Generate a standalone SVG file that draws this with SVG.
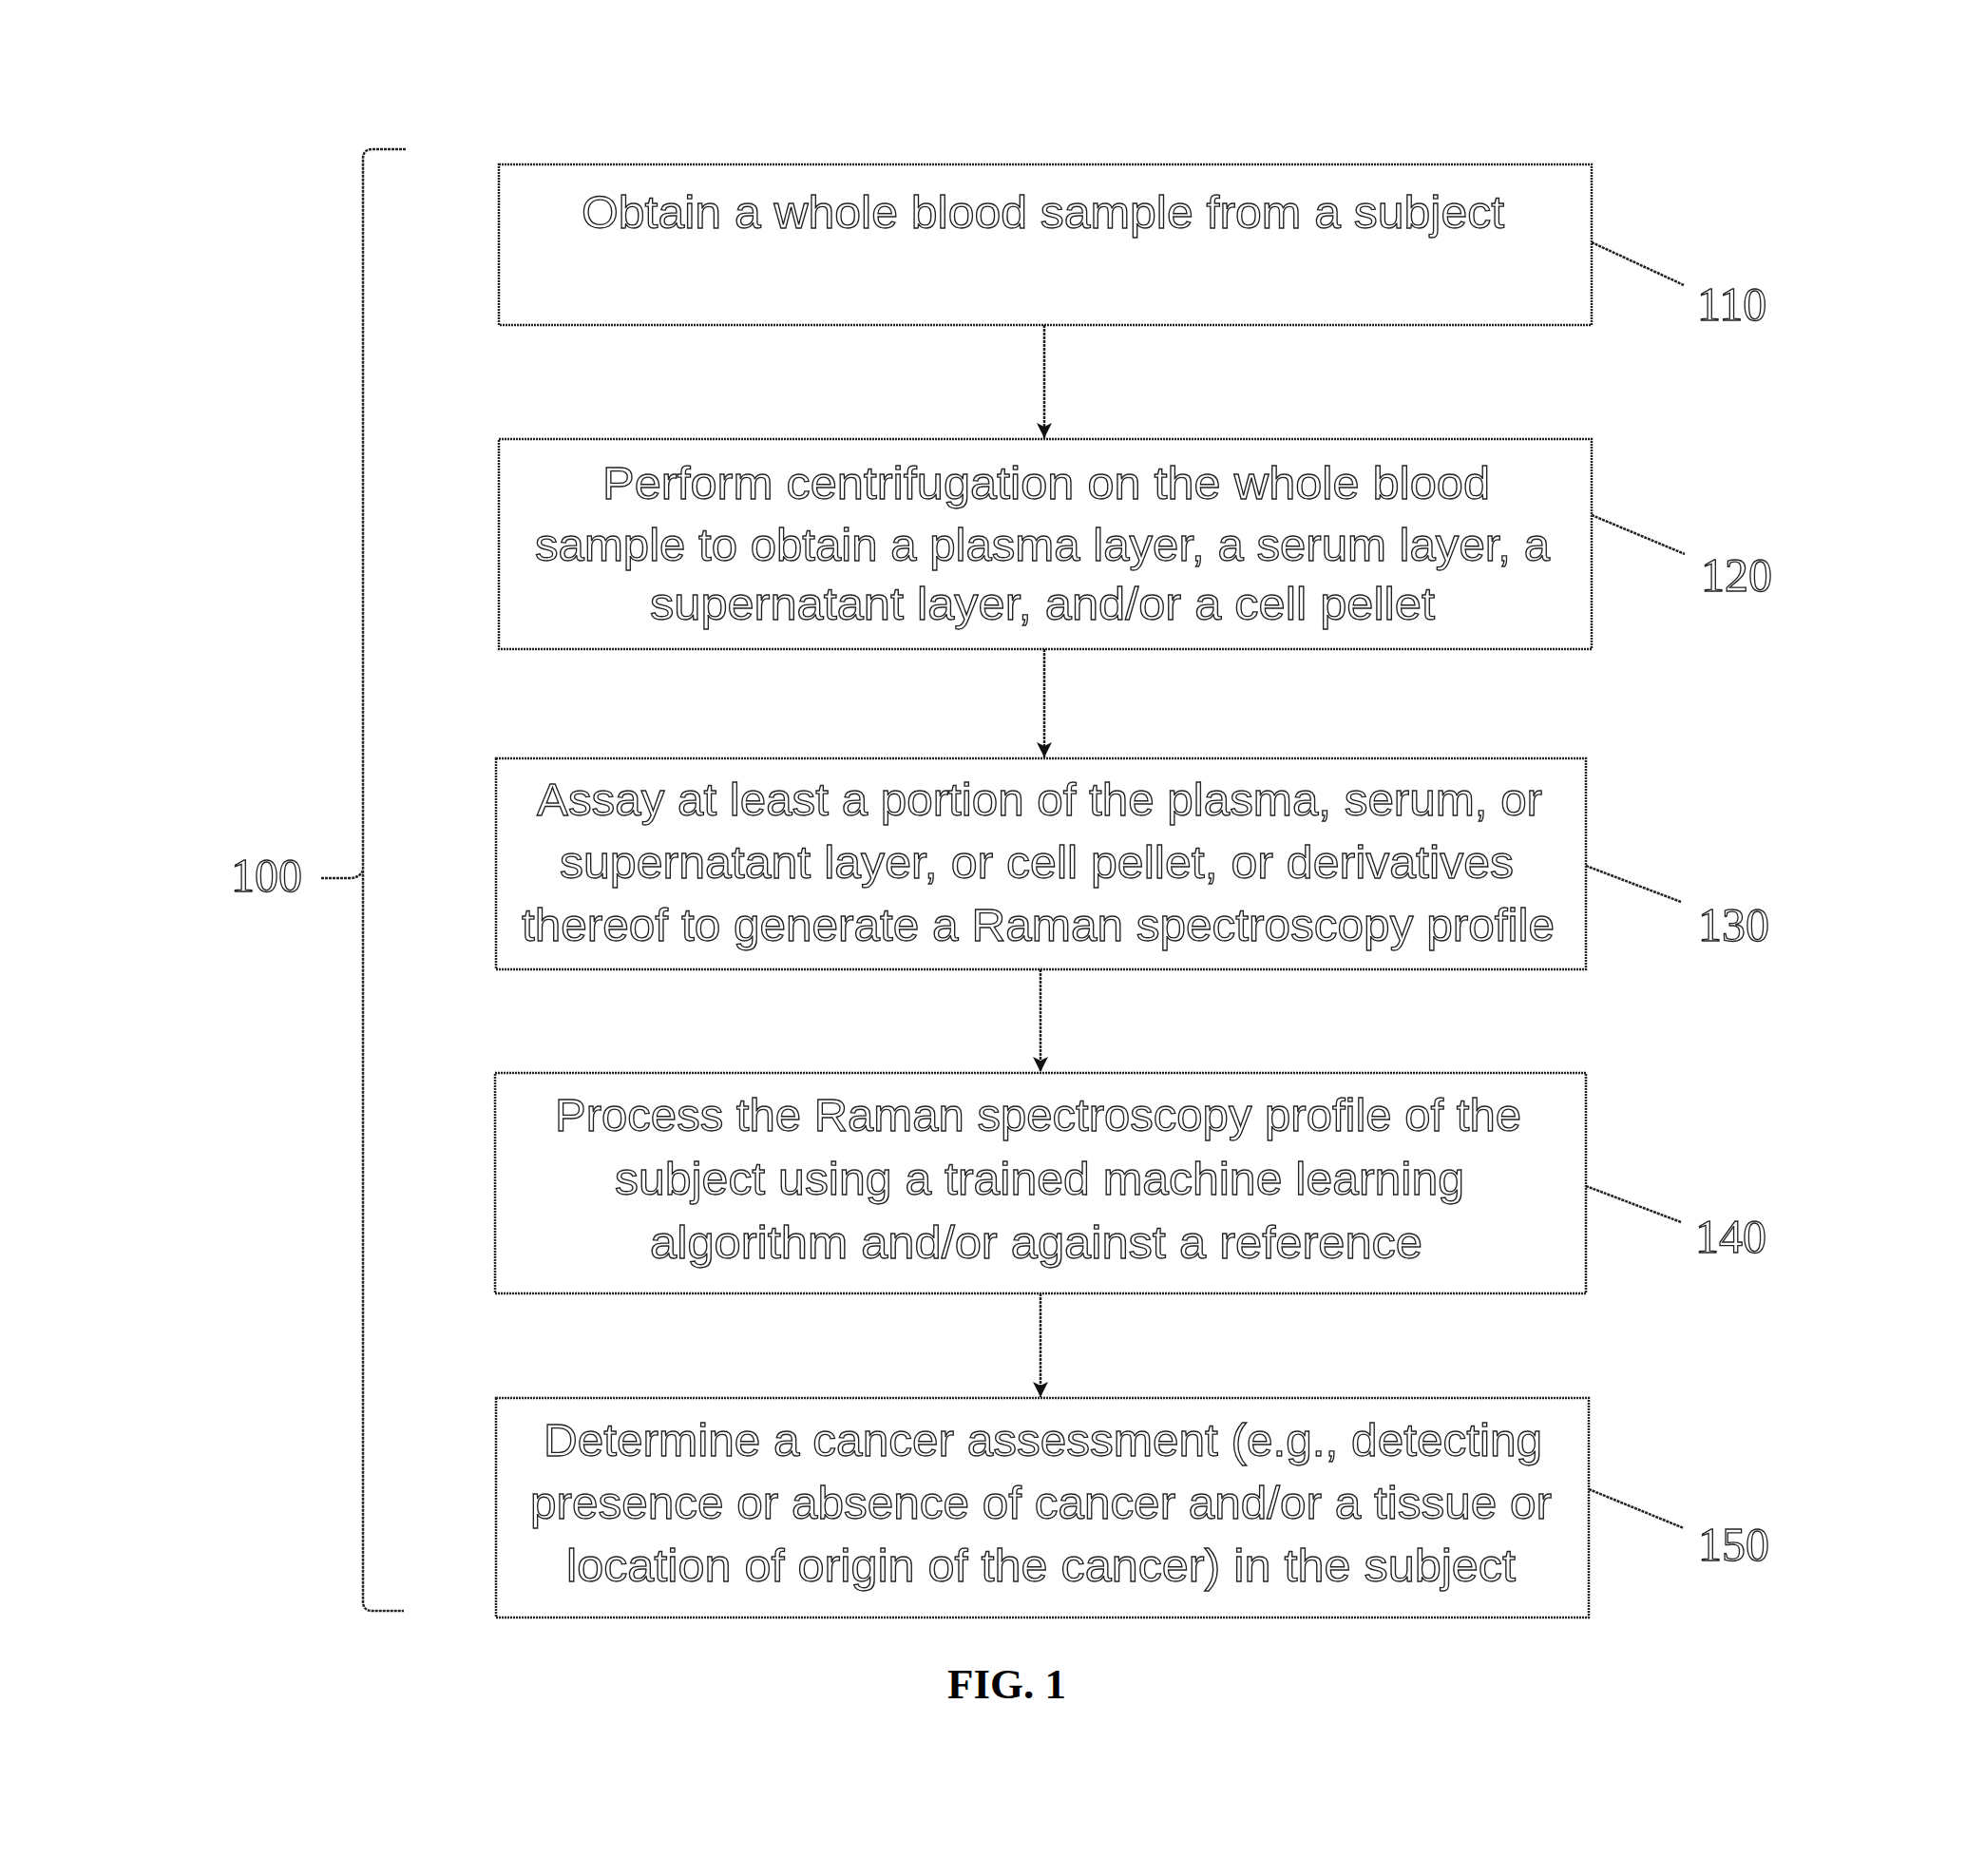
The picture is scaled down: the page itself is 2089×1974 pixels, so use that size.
<svg xmlns="http://www.w3.org/2000/svg" width="2089" height="1974" viewBox="0 0 2089 1974">
<style>
.box{fill:#fff;stroke:#222;stroke-width:2.5;stroke-dasharray:2 1}
.t{font-family:"Liberation Sans","Open Sans",sans-serif;font-size:48px;fill:#fff;stroke:#222;stroke-width:1.3}
.num{font-family:"Liberation Serif",serif;font-size:50px;fill:#fff;stroke:#222;stroke-width:1.3}
.ln{fill:none;stroke:#222;stroke-width:2.5;stroke-dasharray:3 1}
.fig{font-family:"Liberation Serif",serif;font-size:45px;font-weight:bold;fill:#000}
</style>
<defs>
<marker id="ah2" viewBox="0 0 12 12" refX="12" refY="6" markerWidth="16" markerHeight="16" markerUnits="userSpaceOnUse" orient="auto">
<path d="M0,0 L12,6 L0,12 L3,6 z" fill="#111"/>
</marker>
</defs>

<g id="bracket-100">
<path class="ln" d="M427,157 L392,157 Q382,157 382,167 L382,1685 Q382,1695 392,1695 L425,1695"/>
<path class="ln" d="M338,924 L368,924 Q378,924 382,916"/>
<text class="num" x="243" y="938">100</text>
</g>

<g id="node-110">
<rect class="box" x="525" y="173" width="1150" height="169"/>
<text class="t" x="612" y="240" textLength="971" lengthAdjust="spacingAndGlyphs">Obtain a whole blood sample from a subject</text>
</g>
<g id="node-120">
<rect class="box" x="525" y="462" width="1150" height="221"/>
<text class="t" x="634" y="525" textLength="934" lengthAdjust="spacingAndGlyphs">Perform centrifugation on the whole blood</text>
<text class="t" x="563" y="590" textLength="1068" lengthAdjust="spacingAndGlyphs">sample to obtain a plasma layer, a serum layer, a</text>
<text class="t" x="684" y="652" textLength="826" lengthAdjust="spacingAndGlyphs">supernatant layer, and/or a cell pellet</text>
</g>
<g id="node-130">
<rect class="box" x="522" y="798" width="1147" height="222"/>
<text class="t" x="565" y="858" textLength="1058" lengthAdjust="spacingAndGlyphs">Assay at least a portion of the plasma, serum, or</text>
<text class="t" x="589" y="924" textLength="1004" lengthAdjust="spacingAndGlyphs">supernatant layer, or cell pellet, or derivatives</text>
<text class="t" x="549" y="990" textLength="1087" lengthAdjust="spacingAndGlyphs">thereof to generate a Raman spectroscopy profile</text>
</g>
<g id="node-140">
<rect class="box" x="521" y="1129" width="1148" height="232"/>
<text class="t" x="584" y="1190" textLength="1017" lengthAdjust="spacingAndGlyphs">Process the Raman spectroscopy profile of the</text>
<text class="t" x="647" y="1257" textLength="894" lengthAdjust="spacingAndGlyphs">subject using a trained machine learning</text>
<text class="t" x="684" y="1324" textLength="813" lengthAdjust="spacingAndGlyphs">algorithm and/or against a reference</text>
</g>
<g id="node-150">
<rect class="box" x="522" y="1471" width="1150" height="231"/>
<text class="t" x="572" y="1532" textLength="1051" lengthAdjust="spacingAndGlyphs">Determine a cancer assessment (e.g., detecting</text>
<text class="t" x="558" y="1598" textLength="1075" lengthAdjust="spacingAndGlyphs">presence or absence of cancer and/or a tissue or</text>
<text class="t" x="596" y="1664" textLength="999" lengthAdjust="spacingAndGlyphs">location of origin of the cancer) in the subject</text>
</g>

<g id="connectors">
<line class="ln" x1="1099" y1="342" x2="1099" y2="461" marker-end="url(#ah2)"/>
<line class="ln" x1="1099" y1="683" x2="1099" y2="797" marker-end="url(#ah2)"/>
<line class="ln" x1="1095" y1="1020" x2="1095" y2="1128" marker-end="url(#ah2)"/>
<line class="ln" x1="1095" y1="1361" x2="1095" y2="1470" marker-end="url(#ah2)"/>
</g>

<g id="labels">
<line class="ln" x1="1675" y1="255" x2="1772" y2="300"/>
<text class="num" x="1786" y="337">110</text>
<line class="ln" x1="1675" y1="542" x2="1773" y2="583"/>
<text class="num" x="1790" y="622">120</text>
<line class="ln" x1="1669" y1="911" x2="1769" y2="949"/>
<text class="num" x="1787" y="990">130</text>
<line class="ln" x1="1669" y1="1248" x2="1769" y2="1286"/>
<text class="num" x="1784" y="1318">140</text>
<line class="ln" x1="1672" y1="1567" x2="1772" y2="1608"/>
<text class="num" x="1787" y="1642">150</text>
</g>

<text class="fig" x="997" y="1787">FIG. 1</text>
</svg>
